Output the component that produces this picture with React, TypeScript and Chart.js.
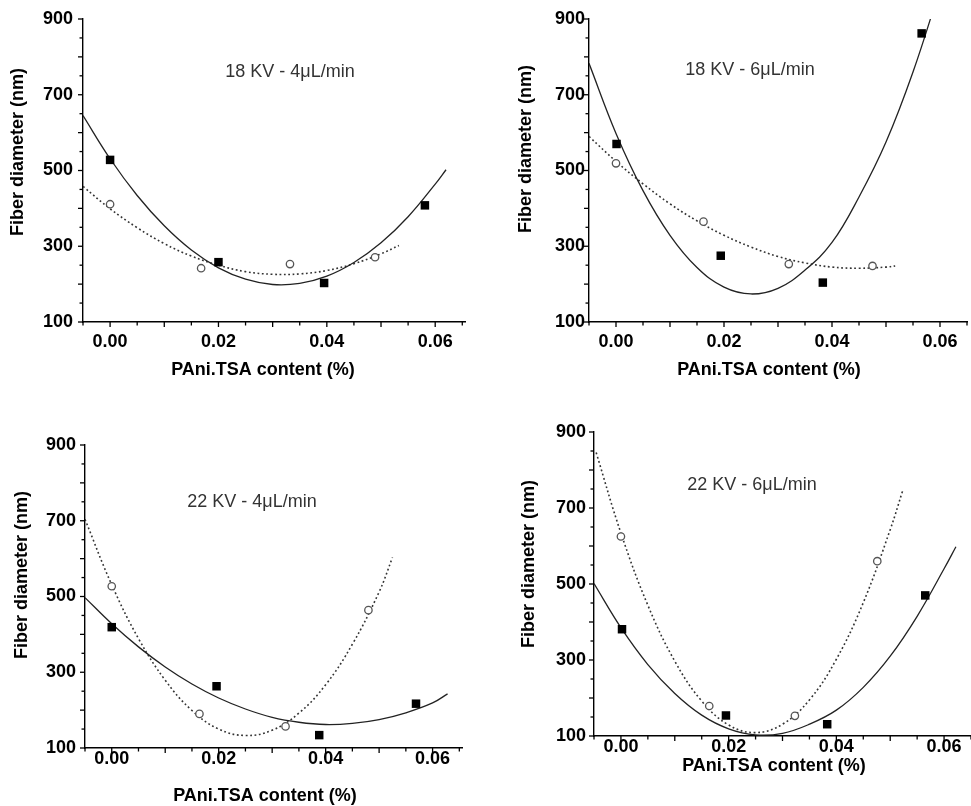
import React, { useEffect, useRef } from 'react';
import { Chart, registerables } from 'chart.js';

Chart.register(...registerables);

// ---- tick values / labels ----
const X_TICKS = [-0.005, 0, 0.005, 0.01, 0.015, 0.02, 0.025, 0.03, 0.035, 0.04, 0.045, 0.05, 0.055, 0.06, 0.065];
const X_LABELED = [0, 0.02, 0.04, 0.06];
const Y_TICKS = [100, 150, 200, 250, 300, 350, 400, 450, 500, 550, 600, 650, 700, 750, 800, 850, 900];
const Y_LABELED = [100, 300, 500, 700, 900];
const X_TITLE = 'PAni.TSA content (%)';
const Y_TITLE = 'Fiber diameter (nm)';
const NOTES = ['18 KV - 4μL/min', '18 KV - 6μL/min', '22 KV - 4μL/min', '22 KV - 6μL/min'];

// ---- panel 1: 18 KV - 4 uL/min ----
const P1_SQ_X = [0.0, 0.02, 0.0395, 0.0581];
const P1_SQ_Y = [528, 258, 203, 408];
const P1_CI_X = [0.0, 0.0168, 0.0332, 0.0489];
const P1_CI_Y = [411, 242, 253, 271];
const P1_FS_X = [-0.005, 0, 0.005, 0.01, 0.015, 0.02, 0.025, 0.03, 0.035, 0.04, 0.045, 0.05, 0.055, 0.06, 0.062];
const P1_FS_Y = [645, 531, 434, 354, 290, 243, 213, 199, 202, 221, 257, 309, 378, 464, 502];
const P1_FD_X = [-0.005, 0, 0.005, 0.01, 0.015, 0.02, 0.025, 0.03, 0.035, 0.04, 0.045, 0.05, 0.0533];
const P1_FD_Y = [458, 399, 349, 307, 274, 250, 233, 226, 227, 236, 254, 280, 302];

// ---- panel 2: 18 KV - 6 uL/min ----
const P2_SQ_X = [0.0001, 0.0194, 0.0383, 0.0566];
const P2_SQ_Y = [570, 275, 204, 862];
const P2_CI_X = [0.0, 0.0162, 0.032, 0.0475];
const P2_CI_Y = [519, 365, 253, 248];
const P2_FS_X = [-0.005, 0, 0.005, 0.01, 0.015, 0.02, 0.025, 0.03, 0.035, 0.04, 0.045, 0.05, 0.055, 0.06];
const P2_FS_Y = [783, 598, 447, 329, 244, 192, 174, 189, 237, 310, 430, 575, 760, 980];
const P2_FD_X = [-0.005, 0, 0.005, 0.01, 0.015, 0.02, 0.025, 0.03, 0.035, 0.04, 0.045, 0.05, 0.0517];
const P2_FD_Y = [590, 524, 465, 412, 367, 329, 298, 273, 256, 245, 242, 245, 248];

// ---- panel 3: 22 KV - 4 uL/min ----
const P3_SQ_X = [0.0, 0.0196, 0.0388, 0.0569];
const P3_SQ_Y = [419, 263, 134, 217];
const P3_CI_X = [0.0, 0.0164, 0.0325, 0.048];
const P3_CI_Y = [527, 190, 157, 464];
const P3_FS_X = [-0.005, 0, 0.005, 0.01, 0.015, 0.02, 0.025, 0.03, 0.035, 0.04, 0.045, 0.05, 0.055, 0.06, 0.0628];
const P3_FS_Y = [497, 428, 367, 314, 269, 232, 203, 181, 168, 162, 165, 175, 193, 219, 243];
const P3_FD_X = [-0.005, 0, 0.005, 0.01, 0.015, 0.02, 0.025, 0.03, 0.035, 0.04, 0.045, 0.05, 0.0525];
const P3_FD_Y = [704, 531, 389, 279, 199, 150, 133, 147, 192, 267, 374, 512, 603];

// ---- panel 4: 22 KV - 6 uL/min ----
const P4_SQ_X = [0.0002, 0.0195, 0.0383, 0.0565];
const P4_SQ_Y = [381, 154, 131, 470];
const P4_CI_X = [0.0, 0.0164, 0.0323, 0.0476];
const P4_CI_Y = [625, 179, 153, 560];
const P4_FS_X = [-0.005, 0, 0.005, 0.01, 0.015, 0.02, 0.025, 0.03, 0.035, 0.04, 0.045, 0.05, 0.055, 0.06, 0.0622];
const P4_FS_Y = [501, 385, 288, 212, 155, 119, 103, 107, 131, 168, 228, 310, 415, 540, 598];
const P4_FD_X = [-0.0046, 0, 0.005, 0.01, 0.015, 0.02, 0.025, 0.03, 0.035, 0.04, 0.045, 0.05, 0.0523];
const P4_FD_Y = [846, 634, 444, 297, 192, 129, 109, 131, 195, 302, 451, 643, 745];

const zip = (xs: number[], ys: number[]) => xs.map((x, i) => ({ x, y: ys[i] }));
const near = (v: number, list: number[]) => list.some((l) => Math.abs(v - l) < 1e-9);
const isMult = (v: number, step: number) => Math.abs(v / step - Math.round(v / step)) < 1e-6;

const FONT = '"Liberation Sans", Arial, Helvetica, sans-serif';

type PanelCfg = {
  note: string;
  left: number;
  top: number;
  w: number;
  xMax: number;
  pad: { left: number; top: number; right: number; bottom: number };
  yW: number;
  xH: number;
  yTickPad: number;
  xTickPad: number;
  yTitle: [number, number];
  xTitle: [number, number];
  notePos: [number, number];
  sq: [number[], number[]];
  ci: [number[], number[]];
  fs: [number[], number[]];
  fd: [number[], number[]];
};

const PANELS: PanelCfg[] = [
  {
    note: NOTES[0], left: 0, top: 0, w: 485, xMax: 0.0655,
    pad: { left: 0, top: 19, right: 20, bottom: 41 }, yW: 83, xH: 40,
    yTickPad: 10, xTickPad: 9, yTitle: [18, 152], xTitle: [263, 370], notePos: [290, 72],
    sq: [P1_SQ_X, P1_SQ_Y], ci: [P1_CI_X, P1_CI_Y], fs: [P1_FS_X, P1_FS_Y], fd: [P1_FD_X, P1_FD_Y],
  },
  {
    note: NOTES[1], left: 486, top: 0, w: 487, xMax: 0.065,
    pad: { left: 0, top: 19, right: 0, bottom: 41 }, yW: 103, xH: 40,
    yTickPad: 4, xTickPad: 9, yTitle: [40, 149], xTitle: [283, 370], notePos: [264, 70],
    sq: [P2_SQ_X, P2_SQ_Y], ci: [P2_CI_X, P2_CI_Y], fs: [P2_FS_X, P2_FS_Y], fd: [P2_FD_X, P2_FD_Y],
  },
  {
    note: NOTES[2], left: 0, top: 403, w: 485, xMax: 0.0655,
    pad: { left: 0, top: 42, right: 23, bottom: 18 }, yW: 85, xH: 40,
    yTickPad: 9, xTickPad: 0, yTitle: [22, 172], xTitle: [265, 393], notePos: [252, 99],
    sq: [P3_SQ_X, P3_SQ_Y], ci: [P3_CI_X, P3_CI_Y], fs: [P3_FS_X, P3_FS_Y], fd: [P3_FD_X, P3_FD_Y],
  },
  {
    note: NOTES[3], left: 486, top: 403, w: 491, xMax: 0.065,
    pad: { left: 0, top: 29, right: 0, bottom: 30 }, yW: 108, xH: 40,
    yTickPad: 8, xTickPad: 0, yTitle: [43, 161], xTitle: [288, 363], notePos: [266, 82],
    sq: [P4_SQ_X, P4_SQ_Y], ci: [P4_CI_X, P4_CI_Y], fs: [P4_FS_X, P4_FS_Y], fd: [P4_FD_X, P4_FD_Y],
  },
];

const decorPlugin = {
  id: 'panelDecor',
  afterDraw(chart: any, _args: any, opts: any) {
    const ctx = chart.ctx as CanvasRenderingContext2D;
    const xs = chart.scales.x;
    const ys = chart.scales.y;
    ctx.save();
    ctx.strokeStyle = '#000';
    ctx.lineWidth = 1.3;
    xs.ticks.forEach((t: any) => {
      const px = xs.getPixelForValue(t.value);
      const len = isMult(t.value, 0.01) ? 5 : 3.5;
      ctx.beginPath();
      ctx.moveTo(px, xs.top);
      ctx.lineTo(px, xs.top + len);
      ctx.stroke();
    });
    ys.ticks.forEach((t: any) => {
      const py = ys.getPixelForValue(t.value);
      const len = isMult(t.value, 100) ? 5 : 3.5;
      ctx.beginPath();
      ctx.moveTo(ys.right, py);
      ctx.lineTo(ys.right - len, py);
      ctx.stroke();
    });
    ctx.fillStyle = '#000';
    ctx.textAlign = 'center';
    ctx.textBaseline = 'middle';
    ctx.font = `bold 18px ${FONT}`;
    ctx.fillText(X_TITLE, opts.xTitle[0], opts.xTitle[1]);
    ctx.save();
    ctx.translate(opts.yTitle[0], opts.yTitle[1]);
    ctx.rotate(-Math.PI / 2);
    ctx.fillText(Y_TITLE, 0, 0);
    ctx.restore();
    ctx.font = `18px ${FONT}`;
    ctx.fillStyle = '#333';
    ctx.fillText(opts.note, opts.notePos[0], opts.notePos[1]);
    ctx.restore();
  },
};

function Panel({ cfg }: { cfg: PanelCfg }) {
  const ref = useRef<HTMLCanvasElement | null>(null);
  useEffect(() => {
    if (!ref.current) return;
    const chart = new Chart(ref.current, {
      type: 'scatter',
      data: {
        datasets: [
          {
            data: zip(cfg.sq[0], cfg.sq[1]),
            pointStyle: 'rect',
            pointRadius: 6,
            pointBackgroundColor: '#000',
            pointBorderColor: '#000',
            pointBorderWidth: 0,
            showLine: false,
          },
          {
            data: zip(cfg.ci[0], cfg.ci[1]),
            pointStyle: 'circle',
            pointRadius: 3.7,
            pointBackgroundColor: '#fff',
            pointBorderColor: '#555',
            pointBorderWidth: 1.3,
            showLine: false,
          },
          {
            data: zip(cfg.fs[0], cfg.fs[1]),
            showLine: true,
            pointRadius: 0,
            borderColor: '#222',
            borderWidth: 1.3,
            tension: 0.4,
          },
          {
            data: zip(cfg.fd[0], cfg.fd[1]),
            showLine: true,
            pointRadius: 0,
            borderColor: '#333',
            borderWidth: 1.6,
            borderDash: [1.8, 2.6],
            tension: 0.4,
          },
        ],
      } as any,
      options: {
        responsive: false,
        animation: false,
        events: [],
        layout: { padding: cfg.pad },
        plugins: {
          legend: { display: false },
          tooltip: { enabled: false },
          title: { display: false },
          panelDecor: { xTitle: cfg.xTitle, yTitle: cfg.yTitle, note: cfg.note, notePos: cfg.notePos },
        } as any,
        scales: {
          x: {
            type: 'linear',
            min: -0.005,
            max: cfg.xMax,
            grid: { display: false, drawTicks: false },
            border: { display: true, color: '#000', width: 1.4 },
            afterBuildTicks: (scale: any) => {
              scale.ticks = X_TICKS.filter((v) => v <= cfg.xMax + 1e-9).map((v) => ({ value: v }));
            },
            afterFit: (scale: any) => {
              scale.height = cfg.xH;
              scale.paddingLeft = 0;
              scale.paddingRight = 0;
            },
            ticks: {
              autoSkip: false,
              maxRotation: 0,
              padding: cfg.xTickPad,
              color: '#000',
              font: { family: FONT, size: 18, weight: 'bold' },
              callback: (v: any) => (near(Number(v), X_LABELED) ? Number(v).toFixed(2) : ''),
            },
          },
          y: {
            type: 'linear',
            min: 100,
            max: 900,
            grid: { display: false, drawTicks: false },
            border: { display: true, color: '#000', width: 1.4 },
            afterBuildTicks: (scale: any) => {
              scale.ticks = Y_TICKS.map((v) => ({ value: v }));
            },
            afterFit: (scale: any) => {
              scale.width = cfg.yW;
              scale.paddingTop = 0;
              scale.paddingBottom = 0;
            },
            ticks: {
              autoSkip: false,
              padding: cfg.yTickPad,
              color: '#000',
              font: { family: FONT, size: 18, weight: 'bold' },
              callback: (v: any) => (near(Number(v), Y_LABELED) ? String(v) : ''),
            },
          },
        },
      } as any,
      plugins: [decorPlugin],
    });
    return () => chart.destroy();
  }, [cfg]);
  return (
    <canvas
      ref={ref}
      width={cfg.w}
      height={403}
      style={{ position: 'absolute', left: cfg.left, top: cfg.top, width: cfg.w, height: 403, display: 'block' }}
    />
  );
}

export default function App() {
  return (
    <div style={{ position: 'absolute', left: 0, top: 0, width: 971, height: 806, background: '#fff', overflow: 'hidden' }}>
      {PANELS.map((p, i) => (
        <Panel key={i} cfg={p} />
      ))}
    </div>
  );
}
